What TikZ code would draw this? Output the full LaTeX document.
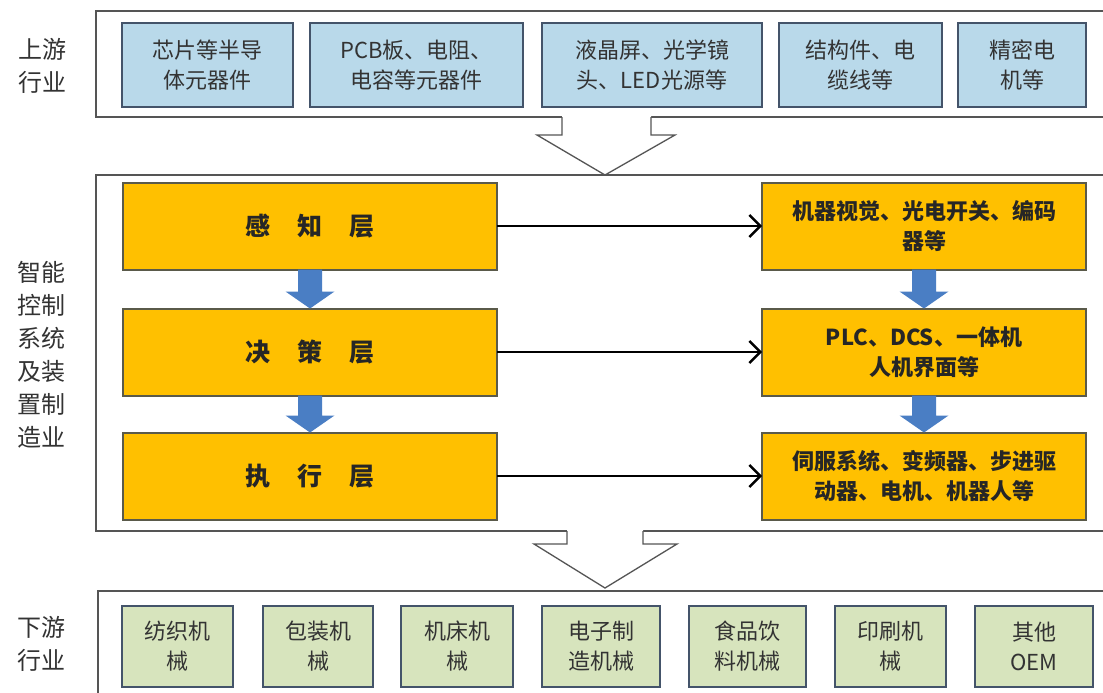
\documentclass[tikz,border=0pt]{standalone}
\usepackage{fontspec}
\setmainfont{Noto Sans CJK SC}
\usetikzlibrary{arrows.meta,calc}
\definecolor{ublue}{HTML}{B9D9EA}
\definecolor{dgreen}{HTML}{D7E4BD}
\definecolor{lorange}{HTML}{FFC000}
\definecolor{edgeblue}{HTML}{44546A}
\definecolor{edgeor}{HTML}{5A5A4A}
\definecolor{panelgray}{HTML}{555555}
\definecolor{arrowblue}{HTML}{4A7EC4}
\definecolor{txtgray}{HTML}{333333}
\newcommand\boxfont{\fontsize{22}{30}\selectfont}
\newcommand\layerfont{\fontsize{25}{30}\selectfont\bfseries}
\newcommand\rfont{\fontsize{22}{30}\selectfont\bfseries}
\newcommand\sidefont{\fontsize{24}{33}\selectfont}
\begin{document}
\begin{tikzpicture}[x=1pt,y=-1pt,
  panel/.style={draw=panelgray, line width=1.4pt, fill=white},
  hollow/.style={draw=panelgray, line width=1.3pt, line join=miter},
  ubox/.style={draw=edgeblue, line width=2.2pt, fill=ublue, minimum height=84pt, inner sep=0pt, outer sep=0pt, align=center, font=\boxfont, text=txtgray},
  dbox/.style={draw=edgeblue, line width=2.2pt, fill=dgreen, minimum height=81pt, inner sep=0pt, outer sep=0pt, align=center, font=\boxfont, text=txtgray},
  obox/.style={draw=edgeor, line width=2pt, fill=lorange, minimum height=87pt, inner sep=0pt, outer sep=0pt, align=center, font=\rfont, text=black!85},
  layerbox/.style={obox, minimum width=374pt, font=\layerfont},
  rbox/.style={obox, minimum width=324pt},
  side/.style={align=center, font=\sidefont, text=txtgray, inner sep=0pt},
  link/.style={line width=2.6pt, black, -{Straight Barb[length=11pt, width=22pt, line width=2.4pt]}}
]
\useasboundingbox (0,0) rectangle (1103,693);
\clip (0,0) rectangle (1103,693);
\fill[white] (0,0) rectangle (1103,693);

% panels
\draw[panel] (96,11) rectangle (1115,117);
\draw[panel] (96,175) rectangle (1115,531);
\draw[panel] (98,591) rectangle (1115,710);

% side labels
\node[side] (lup) at (42,66) {上游\\行业};
\node[side] (lmid) at (41,355) {智能\\控制\\系统\\及装\\置制\\造业};
\node[side] (ldown) at (41,644) {下游\\行业};

% upstream boxes
\node[ubox, minimum width=171pt] (u1) at (207.5,65) {芯片等半导\\体元器件};
\node[ubox, minimum width=213pt] (u2) at (416.5,65) {PCB板、电阻、\\电容等元器件};
\node[ubox, minimum width=220pt] (u3) at (652,65) {液晶屏、光学镜\\头、LED光源等};
\node[ubox, minimum width=163pt] (u4) at (860.5,65) {结构件、电\\缆线等};
\node[ubox, minimum width=128pt] (u5) at (1022,65) {精密电\\机等};

% hollow arrow top
\fill[white] (562,116) -- (562,135) -- (537,135) -- (605,175) -- (675,135) -- (651,135) -- (651,116) -- cycle;
\draw[hollow] (562,117) -- (562,135) -- (537,135) -- (605,175) -- (675,135) -- (651,135) -- (651,117);

% layers
\node[layerbox] (o1) at (310,226) {感\hspace{27pt}知\hspace{27pt}层};
\node[layerbox] (o2) at (310,352) {决\hspace{27pt}策\hspace{27pt}层};
\node[layerbox] (o3) at (310,476) {执\hspace{27pt}行\hspace{27pt}层};

\node[rbox] (r1) at (924,226) {机器视觉、光电开关、编码\\器等};
\node[rbox] (r2) at (924,352) {PLC、DCS、一体机\\人机界面等};
\node[rbox] (r3) at (924,476) {伺服系统、变频器、步进驱\\动器、电机、机器人等};

% blue block arrows
\foreach \a/\b in {o1/o2, o2/o3, r1/r2, r2/r3}{
  \fill[arrowblue] ($(\a.south)+(-12,0)$) -- ($(\b.north)+(-12,-17)$) -- ($(\b.north)+(-24.5,-17)$)
    -- (\b.north) -- ($(\b.north)+(24.5,-17)$) -- ($(\b.north)+(12,-17)$) -- ($(\a.south)+(12,0)$) -- cycle;
}

% black connectors
\draw[link] (o1.east) -- (r1.west);
\draw[link] (o2.east) -- (r2.west);
\draw[link] (o3.east) -- (r3.west);

% hollow arrow bottom
\fill[white] (567,530) -- (567,544) -- (534,544) -- (605,588) -- (677,544) -- (643,544) -- (643,530) -- cycle;
\draw[hollow] (567,531) -- (567,544) -- (534,544) -- (605,588) -- (677,544) -- (643,544) -- (643,531);

% downstream boxes
\node[dbox, minimum width=111pt] (d1) at (177.5,646.5) {纺织机\\械};
\node[dbox, minimum width=110pt] (d2) at (318,646.5) {包装机\\械};
\node[dbox, minimum width=112pt] (d3) at (457,646.5) {机床机\\械};
\node[dbox, minimum width=118pt] (d4) at (601,646.5) {电子制\\造机械};
\node[dbox, minimum width=117pt] (d5) at (747.5,646.5) {食品饮\\料机械};
\node[dbox, minimum width=111pt] (d6) at (890.5,646.5) {印刷机\\械};
\node[dbox, minimum width=118pt] (d7) at (1034,646.5) {其他\\OEM};
\end{tikzpicture}
\end{document}
